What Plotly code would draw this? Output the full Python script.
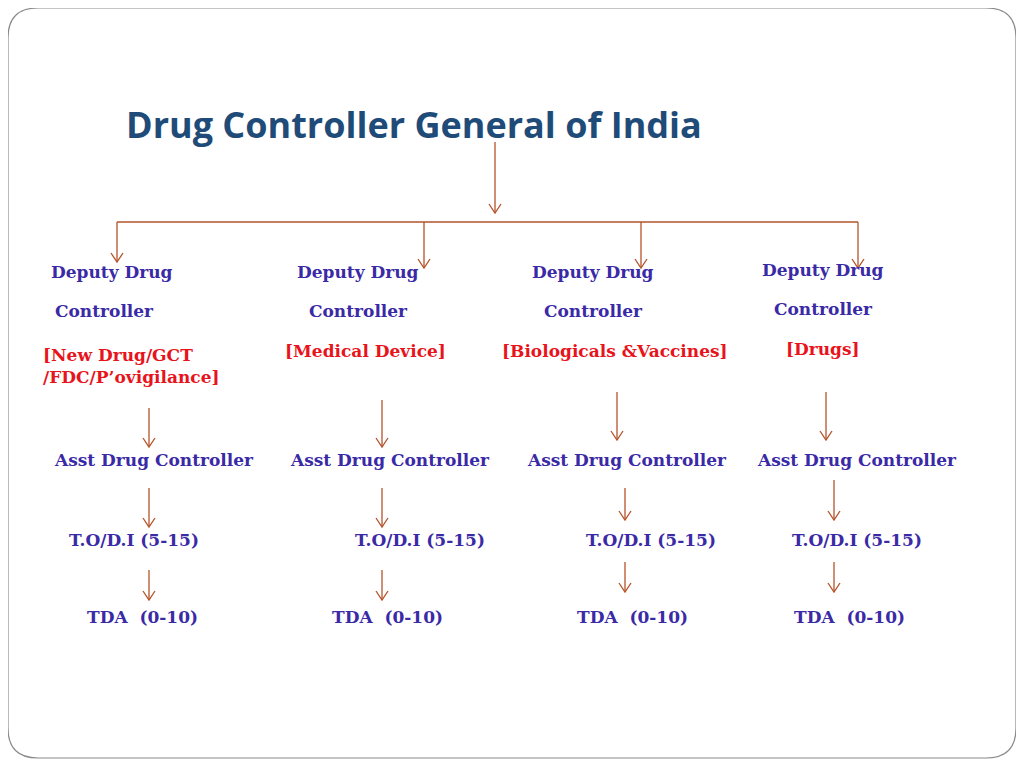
import plotly.graph_objects as go

# org chart content
title = 'Drug Controller General of India'
deputy = ['Deputy Drug', 'Deputy Drug', 'Deputy Drug', 'Deputy Drug']
controller = ['Controller', 'Controller', 'Controller', 'Controller']
divisions = ['[New Drug/GCT<br>/FDC/P’ovigilance]', '[Medical Device]',
             '[Biologicals &Vaccines]', '[Drugs]']
asst = ['Asst Drug Controller'] * 4
to_di = ['T.O/D.I (5-15)'] * 4
tda = ['TDA  (0-10)'] * 4

# layout positions (pixels)
dep_x = [112, 358, 593, 823]
dep_y = [272, 272, 272, 270]
div_x = [41, 365, 615, 823]
asst_x = [154, 390, 627, 857]
to_x = [134, 420, 651, 857]
tda_x = [142, 387, 632, 849]
top_arrow_x = [117, 424, 641, 858]
arrows = [  # x, y0, y1
    (495, 142, 213),
    (117, 222, 262), (424, 222, 268), (641, 222, 268), (858, 222, 268),
    (149, 408, 447), (382, 400, 447), (617, 392, 440), (826, 392, 440),
    (149, 488, 527), (382, 488, 527), (625, 488, 520), (834, 480, 520),
    (149, 570, 600), (382, 570, 600), (625, 562, 592), (834, 562, 592),
]

BLUE = '#3a2aa6'
RED = '#e8141c'
BROWN = '#b4532a'
FONT = 'DejaVu Serif'
SZ = 17

fig = go.Figure()
shapes = [dict(type='path', path='M 38,8 L 986,8 Q 1016,8 1016,38 L 1016,728 Q 1016,758 986,758 '
               'L 38,758 Q 8,758 8,728 L 8,38 Q 8,8 38,8 Z',
               line=dict(color='#8a8a8a', width=1.2))]
shapes.append(dict(type='line', x0=top_arrow_x[0], x1=top_arrow_x[-1], y0=222, y1=222,
                   line=dict(color=BROWN, width=1.3)))
for x, y0, y1 in arrows:
    shapes.append(dict(type='line', x0=x, x1=x, y0=y0, y1=y1, line=dict(color=BROWN, width=1.3)))
    shapes.append(dict(type='path', path=f'M {x-6},{y1-9} L {x},{y1} L {x+6},{y1-9}',
                       line=dict(color=BROWN, width=1.3)))

ann = [dict(x=124, y=124, text=f'<b>{title}</b>', xanchor='left', showarrow=False,
            font=dict(family='Open Sans', size=36, color='#1f4b78'))]
for i in range(4):
    ann.append(dict(x=dep_x[i], y=dep_y[i], text=f'<b>{deputy[i]}</b>', showarrow=False,
                    font=dict(family=FONT, size=SZ, color=BLUE)))
    ann.append(dict(x=dep_x[i] - 8 if i == 0 else dep_x[i], y=dep_y[i] + 39,
                    text=f'<b>{controller[i]}</b>', showarrow=False,
                    font=dict(family=FONT, size=SZ, color=BLUE)))
    ann.append(dict(x=div_x[i], y=dep_y[i] + 79 if i else 366, text=f'<b>{divisions[i]}</b>',
                    showarrow=False, xanchor='left' if i == 0 else 'center', align='left',
                    font=dict(family=FONT, size=SZ, color=RED)))
    ann.append(dict(x=asst_x[i], y=460, text=f'<b>{asst[i]}</b>', showarrow=False,
                    font=dict(family=FONT, size=SZ, color=BLUE)))
    ann.append(dict(x=to_x[i], y=540, text=f'<b>{to_di[i]}</b>', showarrow=False,
                    font=dict(family=FONT, size=SZ, color=BLUE)))
    ann.append(dict(x=tda_x[i], y=617, text=f'<b>{tda[i]}</b>', showarrow=False,
                    font=dict(family=FONT, size=SZ, color=BLUE)))

# page body has an 8px margin, so shift the pixel frame to compensate
fig.update_layout(width=1024, height=768, margin=dict(l=0, r=0, t=0, b=0),
                  paper_bgcolor='white', plot_bgcolor='white', shapes=shapes, annotations=ann,
                  xaxis=dict(range=[8, 1032], visible=False, fixedrange=True),
                  yaxis=dict(range=[776, 8], visible=False, fixedrange=True),
                  showlegend=False)
fig.write_html("out.html")
